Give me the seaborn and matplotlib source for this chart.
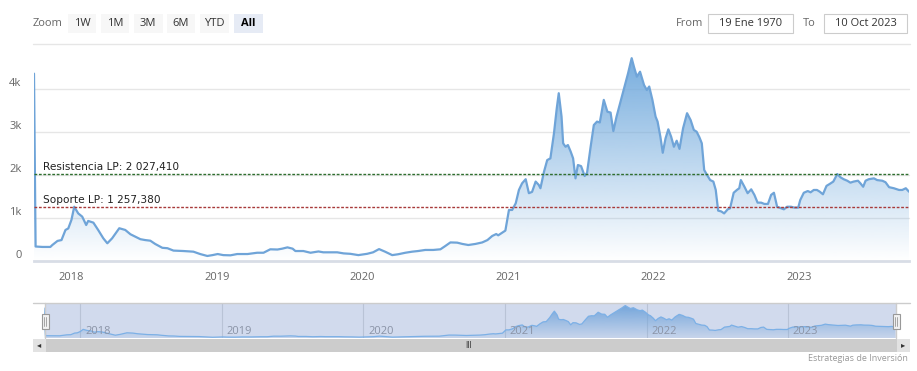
import matplotlib
matplotlib.use("Agg")
import matplotlib.pyplot as plt
import matplotlib.dates as mdates
from matplotlib.patches import Rectangle, PathPatch
import numpy as np
import pandas as pd
import seaborn as sns

# weekly-ish closes
dates = [
    "2017-09-29", "2017-10-03", "2017-10-20", "2017-11-09", "2017-11-14", "2017-11-27",
    "2017-12-07", "2017-12-17", "2017-12-24", "2018-01-01", "2018-01-08", "2018-01-18",
    "2018-01-28", "2018-02-07", "2018-02-12", "2018-02-25", "2018-03-09", "2018-03-22",
    "2018-04-01", "2018-04-13", "2018-05-01", "2018-05-16", "2018-05-29", "2018-06-10",
    "2018-06-23", "2018-07-05", "2018-07-18", "2018-07-30", "2018-08-17", "2018-08-30",
    "2018-09-14", "2018-10-09", "2018-11-03", "2018-11-20", "2018-12-08", "2018-12-21",
    "2019-01-03", "2019-01-17", "2019-02-04", "2019-02-21", "2019-03-19", "2019-04-12",
    "2019-04-28", "2019-05-15", "2019-06-02", "2019-06-14", "2019-06-27", "2019-07-10",
    "2019-07-17", "2019-08-06", "2019-08-24", "2019-09-13", "2019-09-25", "2019-10-13",
    "2019-10-30", "2019-11-15", "2019-12-02", "2019-12-22",
    "2020-01-13", "2020-01-28", "2020-02-12", "2020-02-27", "2020-03-16", "2020-03-31",
    "2020-04-18", "2020-05-05", "2020-05-20", "2020-06-07", "2020-06-27", "2020-07-15",
    "2020-07-27", "2020-08-09", "2020-08-26", "2020-09-08", "2020-09-23", "2020-10-11",
    "2020-10-28", "2020-11-10", "2020-11-22", "2020-12-02", "2020-12-07", "2020-12-17",
    "2020-12-25",
    "2021-01-03", "2021-01-11", "2021-01-20", "2021-01-28", "2021-02-05", "2021-02-14",
    "2021-02-22", "2021-03-02", "2021-03-11", "2021-03-19", "2021-03-23", "2021-04-01",
    "2021-04-09", "2021-04-17", "2021-04-26", "2021-05-03", "2021-05-08", "2021-05-15",
    "2021-05-19", "2021-05-25", "2021-05-31", "2021-06-07", "2021-06-13", "2021-06-19",
    "2021-06-25", "2021-07-03", "2021-07-12", "2021-07-18", "2021-07-27", "2021-08-04",
    "2021-08-12", "2021-08-19", "2021-08-29", "2021-09-07", "2021-09-15", "2021-09-22",
    "2021-09-30", "2021-10-10", "2021-10-20", "2021-10-29", "2021-11-07", "2021-11-13",
    "2021-11-20", "2021-11-28", "2021-12-08", "2021-12-15", "2021-12-21", "2021-12-29",
    "2022-01-06", "2022-01-11", "2022-01-18", "2022-01-24", "2022-01-31", "2022-02-07",
    "2022-02-14", "2022-02-21", "2022-02-28", "2022-03-07", "2022-03-16", "2022-03-26",
    "2022-04-04", "2022-04-12", "2022-04-19", "2022-04-26", "2022-05-02", "2022-05-08",
    "2022-05-15", "2022-05-23", "2022-05-31", "2022-06-06", "2022-06-12", "2022-06-20",
    "2022-06-27", "2022-07-06", "2022-07-12", "2022-07-21", "2022-07-29", "2022-08-04",
    "2022-08-08", "2022-08-17", "2022-08-25", "2022-09-03", "2022-09-11", "2022-09-19",
    "2022-09-28", "2022-10-06", "2022-10-15", "2022-10-23", "2022-10-30", "2022-11-07",
    "2022-11-17", "2022-11-24", "2022-12-02", "2022-12-12", "2022-12-20", "2022-12-30",
    "2023-01-04", "2023-01-13", "2023-01-23", "2023-01-30", "2023-02-07", "2023-02-15",
    "2023-02-22", "2023-03-02", "2023-03-11", "2023-03-19", "2023-03-28", "2023-04-07",
    "2023-04-15", "2023-04-23", "2023-05-02", "2023-05-10", "2023-05-18", "2023-05-29",
    "2023-06-04", "2023-06-11", "2023-06-17", "2023-06-25", "2023-07-08", "2023-07-16",
    "2023-07-29", "2023-08-06", "2023-08-15", "2023-08-27", "2023-09-09", "2023-09-17",
    "2023-09-26", "2023-10-04",
]
values = [
    4350, 330, 320, 320, 365, 460,
    480, 715, 750, 950, 1255, 1100,
    1025, 830, 925, 885, 715, 520,
    405, 520, 755, 715, 615, 560,
    500, 480, 465, 390, 300, 290,
    235, 225, 210, 155, 110, 130,
    155, 130, 125, 155, 155, 185,
    185, 265, 260, 280, 310, 280,
    225, 225, 185, 215, 195, 195,
    195, 170, 160, 130,
    160, 195, 270, 210, 130, 150,
    185, 210, 225, 250, 250, 265,
    340, 425, 420, 390, 365, 390,
    425, 480, 575, 620, 590, 650,
    700,
    1180, 1180, 1335, 1645, 1800, 1895,
    1570, 1600, 1840, 1760, 1685, 2070,
    2340, 2380, 2965, 3545, 3895, 3350,
    2730, 2650, 2690, 2535, 2380, 1915,
    2225, 2200, 1970, 2045, 2650, 3155,
    3235, 3215, 3740, 3465, 3445, 3015,
    3350, 3700, 4050, 4360, 4710, 4500,
    4280, 4395, 4085, 3970, 4050, 3740,
    3350, 3235, 2885, 2510, 2845, 3055,
    2885, 2650, 2790, 2600, 3080, 3430,
    3270, 3040, 3000, 2870, 2730, 2110,
    1995, 1875, 1840, 1645, 1165, 1145,
    1100, 1195, 1220, 1580, 1645, 1685,
    1875, 1720, 1570, 1660, 1530, 1350,
    1350, 1320, 1320, 1530, 1580, 1255,
    1220, 1195, 1255, 1255, 1235, 1235,
    1410, 1580, 1620, 1590, 1645, 1645,
    1605, 1545, 1740, 1785, 1840, 2015,
    1940, 1895, 1860, 1815, 1840, 1860,
    1800, 1720, 1860, 1895, 1915, 1875,
    1860, 1825, 1710, 1685, 1645, 1645,
    1685, 1605,
]

resistance = 2027.41
support = 1257.38
resistance_label = "Resistencia LP: 2 027,410"
support_label = "Soporte LP: 1 257,380"
year_ticks = ["2018", "2019", "2020", "2021", "2022", "2023"]
y_ticks = [0, 1000, 2000, 3000, 4000]
y_tick_labels = ["0", "1k", "2k", "3k", "4k"]
zoom_buttons = ["1W", "1M", "3M", "6M", "YTD", "All"]
from_date = "19 Ene 1970"
to_date = "10 Oct 2023"
credits = "Estrategias de Inversión"

df = pd.DataFrame({"fecha": pd.to_datetime(dates), "valor": values})

sns.set_style("white")
plt.rcParams["font.family"] = ["Open Sans", "DejaVu Sans"]

W, H = 917, 371
fig = plt.figure(figsize=(W / 100, H / 100), dpi=100)


def box(x0, y0, x1, y1):
    # pixel box (top-left origin) -> figure rect
    return [x0 / W, 1 - y1 / H, (x1 - x0) / W, (y1 - y0) / H]


def fx(px):
    return px / W


def fy(py):
    return 1 - py / H


def gradient_area(ax, x, y, color, ytop, a0, a1):
    poly = ax.fill_between(x, y, 0, facecolor="none", edgecolor="none")
    path = poly.get_paths()[0]
    patch = PathPatch(path, facecolor="none", edgecolor="none", transform=ax.transData)
    ax.add_patch(patch)
    rgb = matplotlib.colors.to_rgb(color)
    grad = np.zeros((200, 1, 4))
    grad[:, :, :3] = rgb
    grad[:, 0, 3] = np.linspace(a0, a1, 200)
    xn = mdates.date2num(x)
    im = ax.imshow(grad, aspect="auto", origin="lower", zorder=1,
                   extent=[xn.min(), xn.max(), 0, ytop])
    im.set_clip_path(patch)


xmin, xmax = df["fecha"].min(), df["fecha"].max()
year_pos = pd.to_datetime([f"{y}-01-01" for y in year_ticks])

# ---- main chart
ax = fig.add_axes(box(34, 50, 909, 260.7))
ytop = 4900
gradient_area(ax, df["fecha"], df["valor"], "#72aadd", ytop, 0.0, 1.0)
sns.lineplot(data=df, x="fecha", y="valor", ax=ax, color="#6fa4d8", linewidth=1.6, zorder=3)
ax.set_xlim(xmin, xmax)
ax.set_ylim(0, ytop)
ax.set_xlabel("")
ax.set_ylabel("")
for v in y_ticks[1:]:
    ax.axhline(v, color="#e6e6e6", lw=1, zorder=0.5, clip_on=False)
for s in ["top", "right", "left"]:
    ax.spines[s].set_visible(False)
ax.spines["bottom"].set_color("#d8dde6")
ax.spines["bottom"].set_linewidth(2)
ax.set_yticks(y_ticks)
ax.set_yticklabels(y_tick_labels)
for lbl in ax.get_yticklabels():
    lbl.set_va("bottom")
ax.tick_params(axis="y", length=0, pad=9, labelsize=8, labelcolor="#666666")
ax.set_xticks(year_pos)
ax.set_xticklabels(year_ticks)
ax.tick_params(axis="x", length=5, width=1, color="#ccd6eb", pad=3, labelsize=8, labelcolor="#666666")

ax.axhline(resistance, color="#2f6f2f", lw=1, ls=(0, (2, 1.2)), zorder=4)
ax.axhline(support, color="#a83a3a", lw=1, ls=(0, (2, 1.2)), zorder=4)
ax.text(0.01, resistance + 40, resistance_label, transform=ax.get_yaxis_transform(),
        fontsize=7.6, color="#222222", family="DejaVu Sans", va="bottom", zorder=5)
ax.text(0.01, support + 40, support_label, transform=ax.get_yaxis_transform(),
        fontsize=7.6, color="#222222", family="DejaVu Sans", va="bottom", zorder=5)

# ---- toolbar
fig.text(fx(33), fy(23.5), "Zoom", fontsize=8, color="#666666", va="center")
btn_x = [67.7, 100.7, 134, 166.7, 200, 234]
for lbl, bx in zip(zoom_buttons, btn_x):
    sel = lbl == "All"
    fig.patches.append(Rectangle((fx(bx), fy(33.3)), 28.5 / W, 19.3 / H, transform=fig.transFigure,
                                 facecolor="#e6ebf5" if sel else "#f7f7f7", edgecolor="none"))
    fig.text(fx(bx + 14.2), fy(23.5), lbl, fontsize=8, color="#000000" if sel else "#333333",
             ha="center", va="center", weight="bold" if sel else "normal")
fig.text(fx(676), fy(23.5), "From", fontsize=8, color="#666666", va="center")
fig.text(fx(803), fy(23.5), "To", fontsize=8, color="#666666", va="center")
for (x0, x1), txt in zip([(708.3, 793.3), (824.3, 906.7)], [from_date, to_date]):
    fig.patches.append(Rectangle((fx(x0), fy(33.3)), (x1 - x0) / W, 19.3 / H, transform=fig.transFigure,
                                 facecolor="white", edgecolor="#cccccc", lw=0.8))
    fig.text(fx((x0 + x1) / 2), fy(23.5), txt, fontsize=8, color="#333333", ha="center", va="center")
fig.lines.append(plt.Line2D([fx(33), fx(910)], [fy(44), fy(44)], transform=fig.transFigure,
                            color="#e6e6e6", lw=1))

# ---- navigator
fig.patches.append(Rectangle((fx(45), fy(338)), (896 - 45) / W, 35 / H, transform=fig.transFigure,
                             facecolor="#d1daed", edgecolor="none", zorder=-2))
nav = fig.add_axes(box(44, 303, 895, 338))
nav.set_zorder(1)
nav.patch.set_alpha(0)
nav_top = 5080
gradient_area(nav, df["fecha"], df["valor"], "#6fa3da", nav_top, 0.1, 1.0)
sns.lineplot(data=df, x="fecha", y="valor", ax=nav, color="#7cb0e6", linewidth=0.9, zorder=3)
nav.set_xlim(xmin, xmax)
nav.set_ylim(0, nav_top)
nav.set_xlabel("")
nav.set_ylabel("")
nav.set_xticks([])
nav.set_yticks([])
for s in nav.spines.values():
    s.set_visible(False)
for d, lbl in zip(year_pos, year_ticks):
    nav.axvline(d, color="#b9c3d6", lw=0.8, zorder=0.5)
    nav.text(d + pd.Timedelta(days=12), 0.2, lbl, transform=nav.get_xaxis_transform(),
             fontsize=8, color="#8a93a6", va="center", zorder=4)
fig.lines.append(plt.Line2D([fx(33), fx(910)], [fy(303), fy(303)], transform=fig.transFigure,
                            color="#cccccc", lw=1, zorder=2))
for hx in [45, 896]:
    fig.lines.append(plt.Line2D([fx(hx), fx(hx)], [fy(303), fy(338)], transform=fig.transFigure,
                                color="#cccccc", lw=1, zorder=2))
    fig.patches.append(Rectangle((fx(hx - 3), fy(329)), 7 / W, 15 / H, transform=fig.transFigure,
                                 facecolor="#f2f2f2", edgecolor="#999999", lw=0.8, zorder=5))
    for dx in [-0.8, 1.3]:
        fig.lines.append(plt.Line2D([fx(hx + dx), fx(hx + dx)], [fy(317), fy(326)],
                                    transform=fig.transFigure, color="#999999", lw=0.6, zorder=6))

# ---- scrollbar
fig.patches.append(Rectangle((fx(33), fy(352)), (910 - 33) / W, 13.5 / H, transform=fig.transFigure,
                             facecolor="#cccccc", edgecolor="none", zorder=2))
for bx in [33, 897]:
    fig.patches.append(Rectangle((fx(bx), fy(352)), 13 / W, 13.5 / H, transform=fig.transFigure,
                                 facecolor="#e2e2e2", edgecolor="none", zorder=2))
fig.text(fx(39.5), fy(345), "◂", fontsize=6, color="#333333", ha="center", va="center",
         family="DejaVu Sans")
fig.text(fx(903.5), fy(345), "▸", fontsize=6, color="#333333", ha="center", va="center",
         family="DejaVu Sans")
fig.text(fx(469), fy(345), "III", fontsize=5.5, color="#333333", ha="center", va="center",
         family="DejaVu Sans")

fig.text(fx(908), fy(358.5), credits, fontsize=6.5, color="#999999", ha="right", va="center")

fig.savefig("out.png", dpi=100)
